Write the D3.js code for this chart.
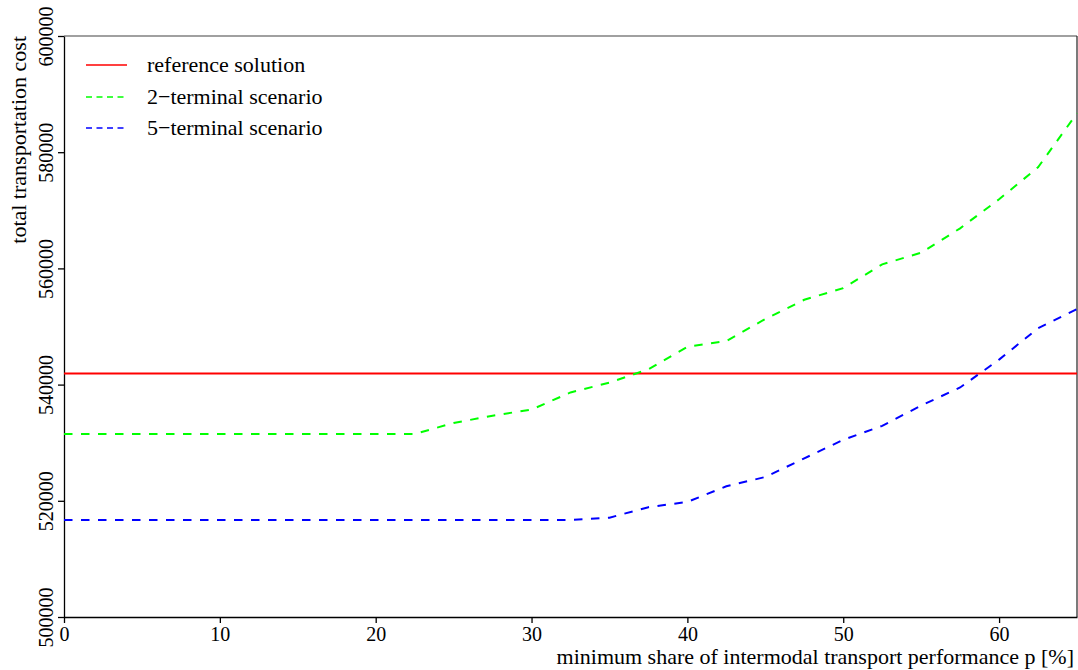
<!DOCTYPE html>
<html>
<head>
<meta charset="utf-8">
<script src="https://cdn.jsdelivr.net/npm/d3@7"></script>
<style>
  body { margin: 0; background: #fff; }
  svg text { font-family: "Liberation Serif", "Times New Roman", serif !important; fill: #000; }
</style>
</head>
<body>
<svg width="1078" height="670"></svg>
<script>
"use strict";
// minimum share of intermodal transport performance p [%]
const share = [0, 2.5, 5, 7.5, 10, 12.5, 15, 17.5, 20, 22.5, 25, 27.5, 30, 32.5,
               35, 37.5, 40, 42.5, 45, 47.5, 50, 52.5, 55, 57.5, 60, 62.5, 65];
// total transportation cost for each scenario
const twoTerminal = [531500, 531500, 531500, 531500, 531500, 531500, 531500, 531500, 531500, 531500,
                     533400, 534650, 535700, 538650, 540350, 542650, 546500, 547500, 551300,
                     554600, 556600, 560700, 562700, 566900, 571900, 577400, 586700];
const fiveTerminal = [516700, 516700, 516700, 516700, 516700, 516700, 516700, 516700, 516700, 516700,
                      516700, 516700, 516700, 516700, 517100, 518900, 519800, 522500, 524100,
                      527300, 530500, 532900, 536400, 539500, 544300, 549700, 553000];
const referenceCost = 541900;

const xTicks = [0, 10, 20, 30, 40, 50, 60];
const yTicks = [500000, 520000, 540000, 560000, 580000, 600000];

const legendLabels = ["reference solution", "2\u2212terminal scenario", "5\u2212terminal scenario"];

window.addEventListener("load", drawChart);

function drawChart() {
    const svg = d3.select("svg");
    const left = 64, right = 1077, top = 36, bottom = 617;

    const x = d3.scaleLinear().domain([0, 65]).range([left, right]);
    const y = d3.scaleLinear().domain([500000, 600000]).range([bottom, top]);

    // frame: top is grey, right is dark, left/bottom come from the axes
    svg.append("line")
        .attr("x1", left).attr("x2", right).attr("y1", top).attr("y2", top)
        .attr("stroke", "#808080").attr("stroke-width", 1.5);
    svg.append("line")
        .attr("x1", right).attr("x2", right).attr("y1", top).attr("y2", bottom)
        .attr("stroke", "#222").attr("stroke-width", 1.2);

    const xAxis = svg.append("g")
        .attr("transform", `translate(0, ${bottom})`)
        .call(d3.axisBottom(x).tickValues(xTicks).tickSize(6).tickSizeOuter(0).tickFormat(d3.format("d")));
    xAxis.attr("font-size", null);
    xAxis.selectAll("text")
        .style("font-size", "20px")
        .attr("y", 10).attr("dy", "0.71em");

    const yAxis = svg.append("g")
        .attr("transform", `translate(${left}, 0)`)
        .call(d3.axisLeft(y).tickValues(yTicks).tickSize(6).tickSizeOuter(0).tickFormat(d3.format("d")));
    yAxis.attr("font-size", null);
    yAxis.selectAll("text")
        .style("font-size", "20px")
        .attr("x", null).attr("dy", null)
        .attr("text-anchor", "middle")
        .attr("transform", "translate(-11, 0) rotate(-90)");

    svg.selectAll(".domain, .tick line").attr("stroke", "#000").attr("stroke-width", 1.3);

    // axis titles
    svg.append("text")
        .attr("x", 1074).attr("y", 664)
        .attr("text-anchor", "end")
        .style("font-size", "22px")
        .text("minimum share of intermodal transport performance p [%]");
    svg.append("text")
        .attr("transform", `translate(26, ${top}) rotate(-90)`)
        .attr("text-anchor", "end")
        .style("font-size", "22px")
        .text("total transportation cost");

    // curves
    const line = d3.line()
        .x((d, i) => x(share[i]))
        .y(d => y(d));

    svg.append("line")
        .attr("x1", x(0)).attr("x2", x(65))
        .attr("y1", y(referenceCost)).attr("y2", y(referenceCost))
        .attr("stroke", "#ff0000").attr("stroke-width", 2);

    svg.append("path")
        .datum(twoTerminal)
        .attr("d", line)
        .attr("fill", "none")
        .attr("stroke", "#00ff00")
        .attr("stroke-width", 2)
        .attr("stroke-dasharray", "8.5,8.5");

    svg.append("path")
        .datum(fiveTerminal)
        .attr("d", line)
        .attr("fill", "none")
        .attr("stroke", "#0000ff")
        .attr("stroke-width", 2)
        .attr("stroke-dasharray", "8.5,8.5");

    // legend
    const legendColors = ["#ff0000", "#00ff00", "#0000ff"];
    const legendDash = [null, "6,4.5", "6,4.5"];
    const legendY = [65, 97, 128];
    const legend = svg.append("g");
    legendLabels.forEach((label, i) => {
        legend.append("line")
            .attr("x1", 86).attr("x2", 127)
            .attr("y1", legendY[i]).attr("y2", legendY[i])
            .attr("stroke", legendColors[i])
            .attr("stroke-width", 1.3)
            .attr("stroke-dasharray", legendDash[i]);
        legend.append("text")
            .attr("x", 147).attr("y", legendY[i] + 7)
            .style("font-size", "22px")
            .text(label);
    });
}
</script>
</body>
</html>
